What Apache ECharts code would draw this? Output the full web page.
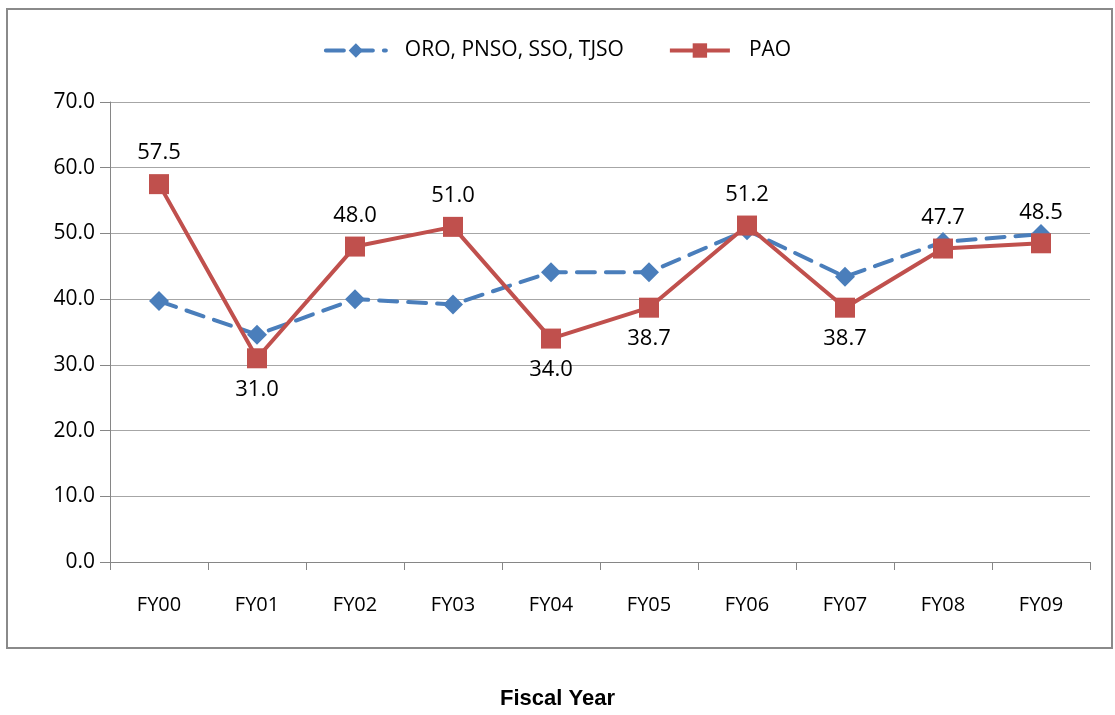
<!DOCTYPE html>
<html>
<head>
<meta charset="utf-8">
<script src="https://cdn.jsdelivr.net/npm/echarts@6/dist/echarts.min.js"></script>
<style>
  html, body { margin: 0; padding: 0; background: #fff; }
  #chart { width: 1115px; height: 715px; }
</style>
</head>
<body>
<div id="chart"></div>
<script>
var years = ['FY00','FY01','FY02','FY03','FY04','FY05','FY06','FY07','FY08','FY09']
var otherOffices = [39.7, 34.6, 40.0, 39.2, 44.1, 44.1, 50.5, 43.4, 48.7, 49.9]
var pao = [57.5, 31.0, 48.0, 51.0, 34.0, 38.7, 51.2, 38.7, 47.7, 48.5]
// where the PAO value label sits
var paoLabelPos = ['top','bottom','top','top','bottom','bottom','top','bottom','top','top']

var font = '"Open Sans", "Noto Sans", sans-serif'
var myChart = echarts.init(document.getElementById('chart'))

myChart.setOption({
  animation: false,
  textStyle: { fontFamily: font },
  graphic: [
    {
      type: 'rect',
      shape: { x: 7, y: 9, width: 1105, height: 639 },
      style: { fill: 'none', stroke: '#8a8a8a', lineWidth: 2 },
      z: -1
    },
    {
      type: 'text',
      left: 'center',
      top: 688,
      style: {
        text: 'Fiscal Year',
        font: 'bold 22px "Liberation Sans", Arial, sans-serif',
        fill: '#000'
      }
    }
  ],
  legend: {
    top: 35,
    left: 'center',
    itemWidth: 60,
    itemHeight: 18,
    itemGap: 44,
    textStyle: { fontSize: 21, color: '#000', fontFamily: font, padding: [0, 0, 0, 14] },
    data: [
      { name: 'ORO, PNSO, SSO, TJSO', lineStyle: { width: 4 } },
      { name: 'PAO', lineStyle: { width: 4 } }
    ]
  },
  grid: {
    left: 110,
    right: 25,
    top: 102,
    bottom: 153
  },
  xAxis: {
    type: 'category',
    boundaryGap: true,
    data: years,
    axisLine: { lineStyle: { color: '#868686', width: 1 } },
    axisTick: { show: true, length: 8, lineStyle: { color: '#868686' } },
    axisLabel: { color: '#000', fontSize: 20, margin: 33, fontFamily: font }
  },
  yAxis: {
    type: 'value',
    min: 0,
    max: 70,
    interval: 10,
    axisLine: { show: true, lineStyle: { color: '#868686' } },
    axisTick: { show: true, length: 10, lineStyle: { color: '#868686' } },
    axisLabel: {
      color: '#000',
      fontSize: 21,
      margin: 15,
      fontFamily: font,
      formatter: function (v) { return v.toFixed(1) }
    },
    splitLine: { show: true, lineStyle: { color: '#a6a6a6', width: 1 } }
  },
  series: [
    {
      name: 'ORO, PNSO, SSO, TJSO',
      type: 'line',
      data: otherOffices,
      symbol: 'diamond',
      symbolSize: 20,
      itemStyle: { color: '#4a7ebb' },
      lineStyle: { color: '#4a7ebb', width: 4, type: [18, 11], cap: 'round' },
      z: 2
    },
    {
      name: 'PAO',
      type: 'line',
      data: pao.map(function (v, i) {
        return { value: v, label: { position: paoLabelPos[i] } }
      }),
      symbol: 'rect',
      symbolSize: 20,
      itemStyle: { color: '#c0504d' },
      lineStyle: { color: '#c0504d', width: 4 },
      label: {
        show: true,
        color: '#000',
        fontSize: 22,
        distance: 10,
        fontFamily: font,
        formatter: function (p) { return p.value.toFixed(1) }
      },
      z: 3
    }
  ]
})
</script>
</body>
</html>
